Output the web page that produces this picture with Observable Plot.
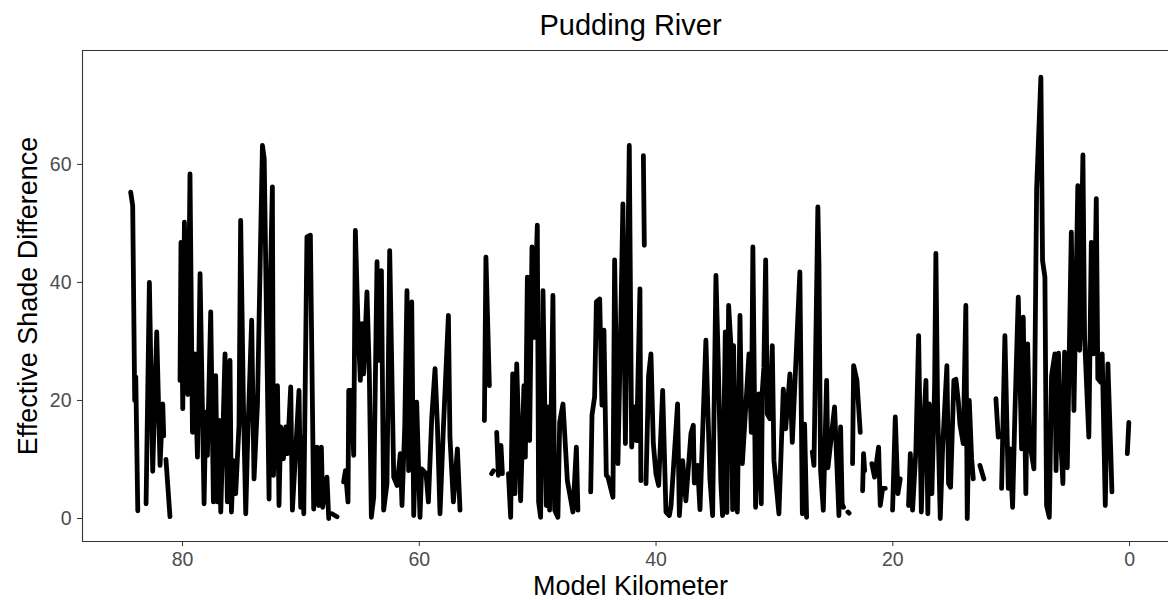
<!DOCTYPE html>
<html>
<head>
<meta charset="utf-8">
<script src="https://cdn.jsdelivr.net/npm/d3@7"></script>
<script src="https://cdn.jsdelivr.net/npm/@observablehq/plot@0.6"></script>
<style>
  html, body { margin: 0; padding: 0; background: #fff; }
</style>
</head>
<body>
<div id="chart"></div>
<script>
// Model kilometer (null = gap in the series)
const km = [
  84.38, 84.21, 84.04, 83.95, 83.78, null,
  83.08, 82.80, 82.52, 82.18, 81.90, 81.67, 81.59, null,
  81.40, 81.06, null,
  80.21, 80.13, 79.98, 79.84, 79.56, 79.37, 79.16, 78.97, 78.74, 78.52, 78.18, 78.04, 77.90, 77.62,
  77.39, 77.20, 77.05, 76.92, 76.77, 76.41, 76.21, 75.99, 75.87, 75.70, 75.51, 75.23, 75.09, 74.86,
  74.66, 74.52, 74.16, 73.96, 73.67, 73.25, 73.10, 72.69, 72.61, 72.41, 72.32, 71.98, 71.85, 71.71,
  71.48, 71.28, 71.14, 70.86, 70.72, 70.16, 70.02, 69.91, 69.76, 69.49, 69.20, 68.92, 68.64, 68.50,
  68.27, 68.16, 67.80, 67.65, null,
  67.37, 66.95, null,
  66.39, 66.24, 66.02, 65.96, 65.74, 65.54, 65.40, 65.18, 64.98, 64.84, 64.70, 64.42, 64.22, 64.05,
  63.85, 63.57, 63.43, 63.20, 63.01, 62.73, 62.50, 62.16, 61.88, 61.60, 61.46, 61.23, 61.04, 60.90,
  60.64, 60.47, 60.22, 59.94, 59.80, 59.43, 59.23, 58.95, 58.67, 58.47, 58.25, 57.96, 57.54, 57.41,
  57.12, 56.99, 56.78, 56.56, null,
  54.50, 54.37, 54.08, null,
  53.89, 53.74, null,
  53.46, 53.32, 53.10, 52.98, null,
  52.47, 52.28, 52.11, 51.92, 51.77, 51.44, 51.16, 51.04, 50.87, 50.68, 50.48, 50.31, 50.03, 49.92,
  49.75, 49.55, 49.27, 49.13, 48.99, 48.71, 48.56, 48.29, 48.14, 47.86, 47.49, 47.02, 46.73, 46.60, null,
  45.52, 45.41, 45.19, 45.04, 44.76, 44.57, 44.40, 44.20, 44.06, 43.64, 43.50, 43.22, 42.99, 42.80,
  42.59, 42.26, 42.06, 41.83, 41.64, 41.36, 41.28, null,
  41.07, 40.99, null,
  40.85, 40.63, 40.43, 40.23, 40.01, 39.78, 39.44, 39.16, 38.88, 38.74, 38.18, 38.03, 37.75, 37.48,
  37.05, 36.85, 36.77, 36.49, 36.29, 35.79, 35.45, 35.22, 34.94, 34.74, 34.52, 34.38, 34.15, 34.01,
  33.87, 33.67, 33.53, 33.45, 33.28, 33.13, 32.91, 32.71, 32.15, 31.95, 31.82, 31.59, 31.31, 31.11,
  31.02, 30.89, 30.74, 30.60, 30.38, 30.18, 30.04, 29.62, 29.25, 29.05, 28.69, 28.49, 27.85, 27.64,
  27.45, 27.28, null,
  26.80, 26.66, 26.33, 26.24, 26.10, 25.87, 25.59, 25.48, 24.92, 24.75, 24.55, 24.41, 24.28, 24.16, null,
  23.79, 23.69, null,
  23.40, 23.31, 23.03, 22.75, null,
  22.55, 22.47, 22.38, null,
  21.77, 21.54, 21.20, 21.06, 20.86, 20.63, null,
  20.02, 19.79, 19.57, 19.37, null,
  18.67, 18.52, 18.33, 18.05, 17.82, 17.59, 17.40, 17.20, 17.04, 16.92, 16.70, 16.47, 16.36, 16.22,
  15.99, 15.79, 15.43, 15.29, 15.12, 14.84, 14.67, 14.47, 14.33, 14.05, 13.83, 13.71, 13.54, 13.34,
  13.20, null,
  12.64, 12.31, null,
  11.29, 11.09, null,
  10.81, 10.53, 10.24, 10.11, 9.88, 9.69, 9.40, 9.12, 8.98, 8.76, 8.61, 8.42, 8.08, 7.85,
  7.49, 7.35, 7.15, 7.01, 6.78, 6.59, 6.31, 6.21, 6.00, 5.83, 5.63, 5.49, 5.26, 4.92,
  4.70, 4.37, 4.22, 3.94, 3.80, 3.44, 3.23, 3.02, 2.81, 2.68, 2.45, 2.31, 2.05, 1.83,
  1.60, 1.49, null,
  0.19, 0.06
];

// Effective shade difference (null = gap in the series)
const shade = [
  55.3, 53, 20, 24, 1.3, null,
  2.5, 40, 8, 31.6, 9, 19.4, 14, null,
  10, 0.3, null,
  23.4, 46.8, 18.6, 50.2, 21, 58.4, 14.6, 27.9, 10.4, 41.5, 2.5, 18, 10.7, 35,
  2.8, 24.2, 2.8, 16.6, 1.1, 27.9, 2.8, 26.8, 1.1, 9.8, 4.2, 15.8, 50.5, 19.7,
  0.8, 11.8, 33.6, 6.7, 19.4, 63.2, 61, 3.3, 37.5, 56.2, 7.3, 22.5, 2.2, 15.5,
  10.1, 15.5, 11, 22.3, 1.4, 21.7, 1.9, 13.8, 0.8, 47.7, 48, 1.6, 12.1, 2.2,
  12.1, 1.9, 7, 0, null,
  0.8, 0.3, null,
  6.2, 8.1, 2.8, 21.7, 21.7, 10.7, 48.8, 33, 23.4, 33, 24.5, 38.4, 24.5, 0.2,
  3.6, 43.5, 26.8, 42, 1.4, 5.9, 45.4, 7, 5.6, 11, 2.2, 15.5, 38.6, 8.1,
  36.7, 0.5, 19.7, 0.2, 8.4, 7.6, 2.8, 16.9, 25.4, 15.8, 0.8, 15.5, 34.4, 13.8,
  2.8, 6.2, 11.8, 1.4, null,
  16.6, 44.3, 22.5, null,
  7.6, 8.1, null,
  14.6, 7.3, 12.4, 7.6, null,
  7.6, 0.2, 24.5, 4.2, 26.2, 3, 22.5, 10.4, 40.9, 13.2, 46, 30.7, 49.7, 2.8,
  0.2, 38.6, 2.2, 18.9, 1.4, 37.8, 1.4, 0.2, 16.3, 19.4, 6.4, 1.1, 12.1, 1.4, null,
  4.5, 17.5, 20.6, 36.7, 37.2, 19.2, 31.9, 7.3, 7, 3.6, 43.8, 9.3, 31.9, 53.3,
  12.7, 63.2, 12.1, 18.9, 13.2, 38.9, 6.4, null,
  61.5, 46.3, null,
  5.9, 24.2, 27.9, 12.7, 7.6, 5.6, 21.7, 1.1, 0.5, 2, 19.4, 0.5, 9.8, 3,
  14.4, 15.8, 6, 9, 1.5, 30.2, 6.7, 0.5, 41.2, 26.2, 5.9, 0.5, 31.6, 1,
  36.1, 29.3, 1.5, 29.3, 6.7, 1.1, 34.4, 9.3, 27.9, 14.6, 46, 1.9, 21.1, 2.5,
  21.7, 25.6, 43.8, 17.7, 16.9, 29.3, 9.8, 0.8, 21.9, 15.2, 24.5, 12.9, 41.8, 0.8,
  16, 0.2, null,
  11.3, 9, 52.8, 43.2, 8.1, 1.4, 23.4, 8.6, 18.9, 10.4, 0.5, 15.5, 2.5, 1.9, null,
  1.1, 0.9, null,
  9.3, 25.9, 23.4, 14.6, null,
  4.7, 11, 8.1, null,
  9.3, 7, 12.1, 2.2, 5.1, 5.1, null,
  1.4, 17.2, 4.2, 6.7, null,
  2.2, 11, 1.4, 11.5, 31, 1.1, 15.5, 23.4, 0.8, 19.4, 4.2, 22.3, 44.9, 19.6,
  0, 12.1, 25.9, 5.9, 5.3, 23.4, 23.6, 20, 16, 12.7, 36.1, 0, 20, 10.1,
  6.7, null,
  9, 6.7, null,
  20.3, 13.8, null,
  5.1, 31, 5.1, 11.8, 1.9, 17.5, 37.5, 11.8, 34.1, 4.2, 29.6, 12.7, 8.4, 55.9,
  74.8, 43.7, 40.9, 2.2, 0.2, 24.2, 27.9, 8.1, 28, 14, 5.9, 28.2, 8.6, 48.5,
  18.3, 56.4, 28.5, 61.6, 30.7, 13.8, 46.8, 27.9, 54.2, 23.7, 23.1, 27.9, 2.2, 26.2,
  12, 4.5, null,
  11, 16.3
];

const xTicks = [0, 20, 40, 60, 80];
const yTicks = [0, 20, 40, 60];

const data = km.map((k, i) => ({km: k, shade: shade[i]}));

const xDomain = [88.45, -3.29];
const yDomain = [-3.9, 79.3];

const chart = Plot.plot({
  width: 1168,
  height: 600,
  marginLeft: 82,
  marginRight: 0,
  marginTop: 50,
  marginBottom: 59,
  style: {fontFamily: "'Liberation Sans', Arial, sans-serif", background: "#fff", color: "#000"},
  x: {domain: xDomain},
  y: {domain: yDomain},
  marks: [
    Plot.ruleX([xDomain[0]], {stroke: "#333", strokeWidth: 1.1}),
    Plot.ruleY([yDomain[0]], {stroke: "#333", strokeWidth: 1.1}),
    Plot.ruleY([yDomain[1]], {stroke: "#333", strokeWidth: 1.1}),
    Plot.line(data, {
      x: "km", y: "shade", stroke: "black", strokeWidth: 4.8,
      strokeLinejoin: "round", strokeLinecap: "round", clip: true
    }),
    Plot.axisX(xTicks, {tickSize: 5, tickPadding: 6, fontSize: 19.5, stroke: "#333", fill: "#4d4d4d", label: null}),
    Plot.axisY(yTicks, {anchor: "left", tickSize: 5, tickPadding: 6, fontSize: 19.5, stroke: "#333", fill: "#4d4d4d", label: null}),
    Plot.text(["Pudding River"], {text: d => d, frameAnchor: "top", lineAnchor: "middle", dx: 5, dy: -25, fontSize: 29, fill: "#000"}),
    Plot.text(["Model Kilometer"], {text: d => d, frameAnchor: "bottom", lineAnchor: "middle", dx: 5, dy: 45, fontSize: 27, fill: "#000"}),
    Plot.text(["Effective Shade Difference"], {text: d => d, frameAnchor: "left", lineAnchor: "middle", textAnchor: "middle", dx: -54, rotate: -90, fontSize: 27, fill: "#000"})
  ]
});

document.getElementById("chart").appendChild(chart);
</script>
</body>
</html>
